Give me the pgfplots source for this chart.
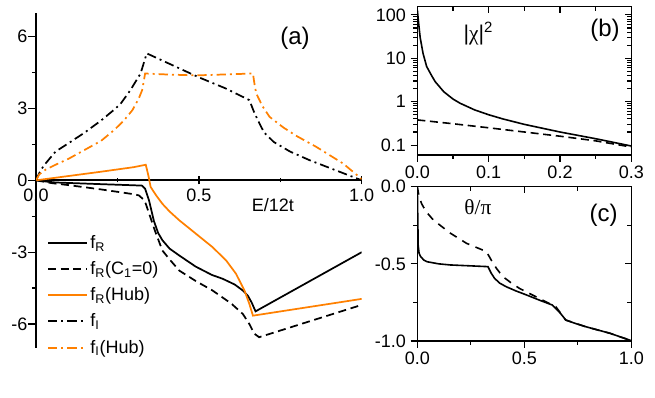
\documentclass[border=0pt]{standalone}
\usepackage{fontspec}
\setmainfont{Liberation Sans}
\newfontfamily\grk{Liberation Serif}
\usepackage{pgfplots}
\pgfplotsset{compat=1.18}
\definecolor{org}{RGB}{255,128,0}
\newcommand\ticksize{\fontsize{13.5}{16}\selectfont}
\pgfplotsset{
  boxstyle/.style={scale only axis, axis line style={line width=0.8pt},
    tick style={line width=0.8pt, black}, major tick length=5pt, minor tick length=3pt,
    tick label style={font=\ticksize}},
  dashA/.style={dash pattern=on 6pt off 3.5pt},
  dashdotA/.style={dash pattern=on 7pt off 3pt on 1.5pt off 3pt},
}
\begin{document}
\begin{tikzpicture}
\useasboundingbox (0,0) rectangle (491.25pt,298.5pt);
% ---------------- panel (a)
\begin{axis}[at={(27pt,37.5pt)}, anchor=south west, scale only axis,
  width=244.3pt, height=251.5pt,
  xmin=0, xmax=1, ymin=-7, ymax=7,
  axis x line=middle, axis y line=left,
  axis line style={-, line width=1.4pt},
  hide obscured x ticks=false, hide obscured y ticks=false,
  xtick={0,0.5,1}, xticklabels={0.0,0.5,1.0}, minor xtick={0.25,0.75},
  ytick={-6,-3,0,3,6}, yticklabels={-6,-3,0,3,6}, minor ytick={-4.5,-1.5,1.5,4.5},
  tick align=center, major tick length=6pt, minor tick length=3pt,
  tick style={line width=1pt, black},
  every major y tick/.append style={xshift=-3pt},
  every minor y tick/.append style={xshift=-1.5pt},
  tick label style={font=\ticksize},
  legend style={draw=none, fill=none, at={(0.033,0.344)}, anchor=north west,
    font=\ticksize, row sep=4.3pt, inner sep=0pt},
  legend cell align=left,
  every axis plot/.append style={line width=1.3pt},
  every axis plot post/.append style={legend image code/.code={\draw[##1, line width=1.5pt] (0pt,0pt) -- (29pt,0pt);}},
]
\addplot[black] coordinates {(0,0)(0.03,-0.05)(0.06,-0.09)(0.1,-0.11)(0.2,-0.16)(0.285,-0.2)(0.325,-0.22)(0.335,-0.35)(0.347,-0.84)(0.362,-1.7)(0.375,-2.2)(0.388,-2.5)(0.41,-2.85)(0.44,-3.14)(0.49,-3.6)(0.54,-3.95)(0.573,-4.11)(0.61,-4.35)(0.635,-4.6)(0.65,-4.81)(0.662,-5.1)(0.674,-5.47)(1.0,-3.0)};
\addlegendentry{f\textsubscript{R}\vphantom{()}}
\addplot[black, dashA] coordinates {(0,0)(0.05,-0.12)(0.1,-0.2)(0.2,-0.38)(0.3,-0.58)(0.316,-0.63)(0.33,-0.8)(0.337,-0.98)(0.35,-1.5)(0.365,-2.1)(0.388,-2.93)(0.41,-3.3)(0.44,-3.77)(0.49,-4.2)(0.542,-4.6)(0.6,-5.15)(0.635,-5.58)(0.655,-6.0)(0.67,-6.4)(0.685,-6.55)(1.0,-5.2)};
\addlegendentry{f\textsubscript{R}(C\textsubscript{1}=0)}
\addplot[org] coordinates {(0,0)(0.1,0.18)(0.2,0.36)(0.3,0.55)(0.337,0.65)(0.345,0.2)(0.352,-0.28)(0.37,-0.65)(0.388,-0.98)(0.41,-1.3)(0.44,-1.67)(0.491,-2.23)(0.542,-2.79)(0.584,-3.35)(0.614,-3.9)(0.64,-4.6)(0.655,-5.16)(0.666,-5.65)(1.0,-4.95)};
\addlegendentry{f\textsubscript{R}(Hub)}
\addplot[black, dashdotA] coordinates {(0,0)(0.01,0.3)(0.023,0.6)(0.06,1.2)(0.1,1.55)(0.15,2.0)(0.2,2.5)(0.24,2.95)(0.26,3.2)(0.29,3.77)(0.321,4.46)(0.34,5.3)(0.42,4.8)(0.5,4.3)(0.58,3.85)(0.655,3.35)(0.668,2.9)(0.681,2.51)(0.7,2.0)(0.73,1.6)(0.78,1.2)(0.84,0.84)(0.92,0.42)(1.0,0)};
\addlegendentry{f\textsubscript{I}\vphantom{()}}
\addplot[org, dashdotA] coordinates {(0,0)(0.01,0.25)(0.03,0.45)(0.06,0.65)(0.1,0.9)(0.14,1.2)(0.2,1.65)(0.24,2.1)(0.27,2.5)(0.296,2.93)(0.315,3.4)(0.326,3.77)(0.335,4.46)(0.4,4.42)(0.49,4.38)(0.58,4.42)(0.666,4.46)(0.671,4.0)(0.676,3.63)(0.695,3.1)(0.717,2.65)(0.76,2.2)(0.8,1.85)(0.86,1.4)(0.943,0.7)(1.0,0.05)};
\addlegendentry{f\textsubscript{I}(Hub)}
\node[font=\fontsize{18}{20}\selectfont] at (axis cs:0.795,5.93) {(a)};
\node[font=\ticksize] at (axis cs:0.727,-1.05) {E/12t};
\end{axis}
% ---------------- panel (b)
\begin{axis}[at={(313pt,182.25pt)}, anchor=south west, boxstyle,
  width=160.5pt, height=111.2pt,
  xmin=0, xmax=0.3, ymode=log, ymin=0.059, ymax=155,
  xtick={0,0.1,0.2,0.3}, xticklabels={0.0,0.1,0.2,0.3}, minor xtick={0.05,0.15,0.25},
  ytick={0.1,1,10,100}, yticklabels={0.1,1,10,100},
  tick align=outside, xtick pos=left, ytick pos=left,
  every axis plot/.append style={line width=1.2pt},
]
\addplot[black] coordinates {(0,130)(0.002,60)(0.004,30)(0.008,13)(0.013,6.5)(0.02,4)(0.025,2.9)(0.037,1.7)(0.05,1.15)(0.06,0.92)(0.08,0.65)(0.1,0.5)(0.12,0.4)(0.15,0.3)(0.2,0.2)(0.25,0.14)(0.3,0.095)};
\addplot[black, dashA] coordinates {(0,0.38)(0.05,0.31)(0.1,0.25)(0.15,0.2)(0.2,0.16)(0.25,0.125)(0.3,0.09)};
\node[font=\fontsize{16}{18}\selectfont] at (rel axis cs:0.285,0.82) {|{\grk χ}|\textsuperscript{2}};
\node[font=\fontsize{18}{20}\selectfont] at (rel axis cs:0.877,0.843) {(b)};
\end{axis}
\begin{axis}[at={(313pt,182.25pt)}, anchor=south west, boxstyle,
  width=160.5pt, height=111.2pt,
  xmin=0, xmax=0.3, ymode=log, ymin=0.059, ymax=155,
  xtick={0,0.1,0.2,0.3}, xticklabels={}, minor xtick={0.05,0.15,0.25},
  ytick={0.1,1,10,100}, yticklabels={},
  tick align=inside, xtick pos=right, ytick pos=right,
]
\end{axis}
% ---------------- panel (c)
\begin{axis}[at={(313pt,42.75pt)}, anchor=south west, boxstyle,
  width=160.5pt, height=115.7pt,
  xmin=0, xmax=1, ymin=-1, ymax=0,
  xtick={0,0.5,1}, xticklabels={0.0,0.5,1.0}, minor xtick={0.25,0.75},
  ytick={-1,-0.5,0}, yticklabels={-1.0,-0.5,0.0}, minor ytick={-0.75,-0.25},
  tick align=outside, xtick pos=left, ytick pos=left,
  every axis plot/.append style={line width=1.2pt},
]
\addplot[black] coordinates {(0,-0.01)(0.002,-0.2)(0.004,-0.38)(0.008,-0.43)(0.014,-0.45)(0.03,-0.475)(0.045,-0.486)(0.1,-0.5)(0.153,-0.507)(0.25,-0.513)(0.33,-0.518)(0.345,-0.56)(0.361,-0.594)(0.385,-0.625)(0.415,-0.648)(0.46,-0.675)(0.507,-0.70)(0.57,-0.735)(0.631,-0.767)(0.662,-0.81)(0.68,-0.84)(0.693,-0.864)(0.74,-0.887)(0.786,-0.907)(0.9,-0.95)(1.0,-0.998)};
\addplot[black, dash pattern=on 6pt off 5pt] coordinates {(0,0)(0.005,-0.04)(0.01,-0.07)(0.02,-0.11)(0.04,-0.16)(0.075,-0.216)(0.153,-0.30)(0.23,-0.367)(0.322,-0.42)(0.335,-0.45)(0.345,-0.475)(0.37,-0.53)(0.4,-0.583)(0.44,-0.625)(0.477,-0.659)(0.554,-0.713)(0.647,-0.778)(0.67,-0.82)(0.693,-0.864)(0.786,-0.907)(0.9,-0.95)(1.0,-0.998)};
\node[font=\fontsize{16}{18}\selectfont] at (rel axis cs:0.283,0.87) {{\grk θ/π}};
\node[font=\fontsize{18}{20}\selectfont] at (rel axis cs:0.87,0.817) {(c)};
\node[font=\ticksize] at (rel axis cs:0.43,-0.255) {E/12t};
\end{axis}
\begin{axis}[at={(313pt,42.75pt)}, anchor=south west, boxstyle,
  width=160.5pt, height=115.7pt,
  xmin=0, xmax=1, ymin=-1, ymax=0,
  xtick={0,0.5,1}, xticklabels={}, minor xtick={0.25,0.75},
  ytick={-1,-0.5,0}, yticklabels={}, minor ytick={-0.75,-0.25},
  tick align=inside, xtick pos=right, ytick pos=right,
]
\end{axis}
\end{tikzpicture}
\end{document}
